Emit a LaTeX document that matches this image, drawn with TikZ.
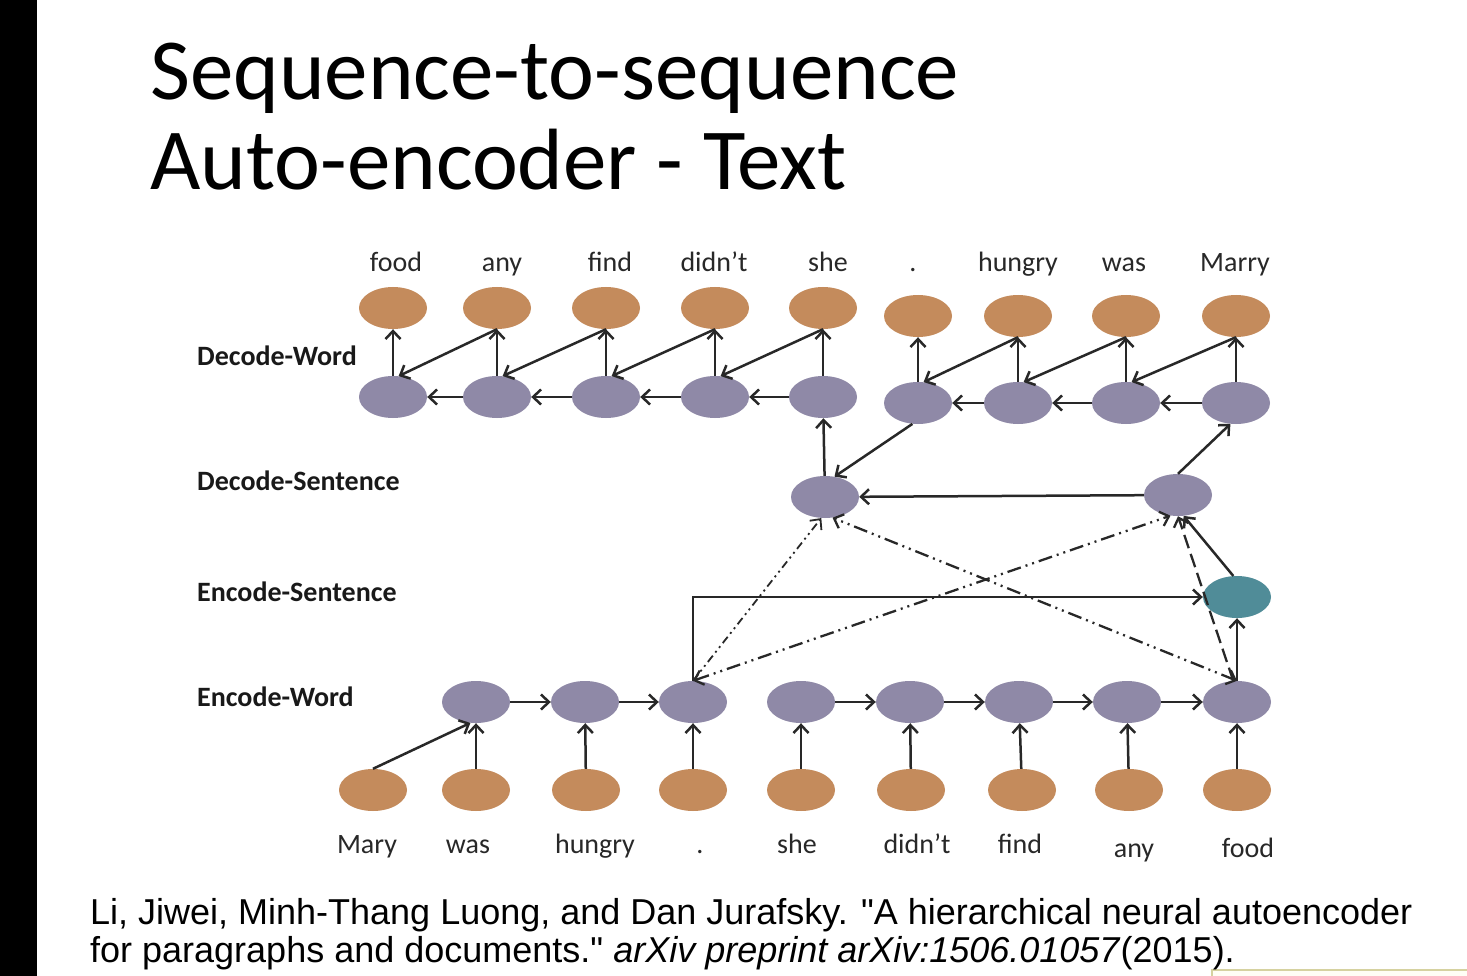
\documentclass[tikz,border=0pt]{standalone}
\usepackage{fontspec}
\setmainfont{Carlito}
\newfontfamily\citefont{Liberation Sans}
\usetikzlibrary{shapes.geometric,arrows.meta}

\definecolor{wordorange}{RGB}{196,139,92}
\definecolor{hidpurple}{RGB}{143,137,167}
\definecolor{sentteal}{RGB}{80,140,152}
\definecolor{edgegray}{RGB}{40,40,40}
\definecolor{textgray}{RGB}{40,40,40}
\definecolor{tipbox}{RGB}{214,210,160}

\begin{document}
\begin{tikzpicture}[x=1pt, y=-1pt, >={Straight Barb[length=8pt,width=15pt]},
  word/.style={ellipse, fill=wordorange, minimum width=68pt, minimum height=42pt, inner sep=0pt},
  hid/.style={word, fill=hidpurple},
  sent/.style={word, fill=sentteal},
  conn/.style={->, draw=edgegray, line width=2.5pt},
  attdot/.style={->, draw=edgegray, line width=1.8pt, dash pattern=on 8pt off 4pt on 2pt off 4pt on 2pt off 4pt},
  attdd/.style={<->, draw=edgegray, line width=2.3pt, dash pattern=on 14pt off 5pt on 2pt off 5pt on 2pt off 5pt},
  attdash/.style={->, draw=edgegray, line width=2.3pt, dash pattern=on 14pt off 6pt},
  wlab/.style={anchor=base, inner sep=0pt, text=textgray, font=\fontsize{28}{30}\selectfont},
  layer/.style={anchor=base west, inner sep=0pt, text=black!90, font=\bfseries\fontsize{28}{30}\selectfont}]

% --- Hintergrund ---
\useasboundingbox[fill=white] (0,0) rectangle (1467,976);
\fill[black] (0,0) rectangle (37,976);
\draw[tipbox, fill=yellow!4, line width=1.5pt] (1212,970) rectangle (1480,990);

% --- Titel ---
\node[anchor=base west, inner sep=0pt, font=\fontsize{87}{90}\selectfont] (title1) at (150,100) {Sequence-to-sequence};
\node[anchor=base west, inner sep=0pt, font=\fontsize{87}{90}\selectfont] (title2) at (150,190) {Auto-encoder - Text};

% --- Ebenen ---
\node[layer] (lDW) at (197,365) {Decode-Word};
\node[layer] (lDS) at (197,490) {Decode-Sentence};
\node[layer] (lES) at (197,601) {Encode-Sentence};
\node[layer] (lEW) at (197,706) {Encode-Word};

% --- Decode-Word: Ausgabe (oben) und Zustaende ---
\foreach \i/\x/\yo/\yh in {1/393/308/397, 2/497/308/397, 3/606/308/397, 4/715/308/397, 5/823/308/397,
                           6/918/316/403, 7/1018/316/403, 8/1126/316/403, 9/1236/316/403} {
  \node[word] (dwo\i) at (\x,\yo) {};
  \node[hid]  (dwh\i) at (\x,\yh) {};
}
\foreach \i/\x/\t in {1/396/food, 2/502/any, 3/610/find, 4/714/didn’t, 5/828/she,
                      6/913/., 7/1018/hungry, 8/1124/was, 9/1235/Marry}
  \node[wlab] (tw\i) at (\x,272) {\t};

% --- Decode-Sentence / Encode-Sentence ---
\node[hid]  (ds1) at (825,497) {};
\node[hid]  (ds2) at (1178,495) {};
\node[sent] (es)  at (1237,597) {};

% --- Encode-Word: Zustaende und Eingabe ---
\foreach \i/\x in {1/476, 2/585, 3/693, 4/801, 5/910, 6/1019, 7/1127, 8/1237}
  \node[hid] (ewh\i) at (\x,702) {};
\foreach \i/\x in {1/373, 2/476, 3/586, 4/693, 5/801, 6/911, 7/1022, 8/1129, 9/1237}
  \node[word] (ewo\i) at (\x,790) {};
\foreach \i/\x/\y/\t in {1/367/853/Mary, 2/468/853/was, 3/595/853/hungry, 4/700/853/., 5/797/853/she,
                         6/917/853/didn’t, 7/1020/853/find, 8/1134/857/any, 9/1248/857/food}
  \node[wlab] (bw\i) at (\x,\y) {\t};

% --- Pfeile Decode-Word ---
\foreach \i in {1,...,9}
  \draw[conn] (dwh\i) -- (dwo\i);
\foreach \i/\j in {1/2, 2/3, 3/4, 4/5, 6/7, 7/8, 8/9} {
  \draw[conn] (dwo\j.south) -- (dwh\i.75);
  \draw[conn] (dwh\j) -- (dwh\i);
}

% --- Pfeile Decode-Sentence ---
\draw[conn] (ds2) -- (ds1);
\draw[conn] (ds1) -- (dwh5);
\draw[conn] (dwh6.-105) -- (ds1.65);
\draw[conn] (ds2.north) -- (dwh9.-105);

% --- Pfeile Encode ---
\draw[conn] (ewo1.north) -- (ewh1.-105);
\foreach \i/\j in {1/2, 2/3, 3/4, 4/5, 5/6, 6/7, 7/8, 8/9}
  \draw[conn] (ewo\j) -- (ewh\i);
\foreach \i/\j in {1/2, 2/3, 4/5, 5/6, 6/7, 7/8}
  \draw[conn] (ewh\i) -- (ewh\j);
\draw[conn] (ewh3.north) |- (es.west);
\draw[conn] (ewh8) -- (es);
\draw[conn] (es.100) -- (ds2.-75);

% --- Aufmerksamkeit (gestrichelt) ---
\draw[attdot]  (ewh3.north) -- (ds1.-100);
\draw[attdd]   (ewh3.north) -- (ds2.-110);
\draw[attdd]   (ewh8.north) -- (ds1.-70);
\draw[attdash] (ewh8.100) -- (ds2.-90);

% --- Quelle ---
\node[anchor=base west, inner sep=0pt, font=\citefont\fontsize{36}{40}\selectfont] (cite1) at (90,924)
  {Li, Jiwei, Minh-Thang Luong, and Dan Jurafsky. "A hierarchical neural autoencoder};
\node[anchor=base west, inner sep=0pt, font=\citefont\fontsize{36}{40}\selectfont] (cite2) at (90,962)
  {for paragraphs and documents." \textit{arXiv preprint arXiv:1506.01057}(2015).};

\end{tikzpicture}
\end{document}
